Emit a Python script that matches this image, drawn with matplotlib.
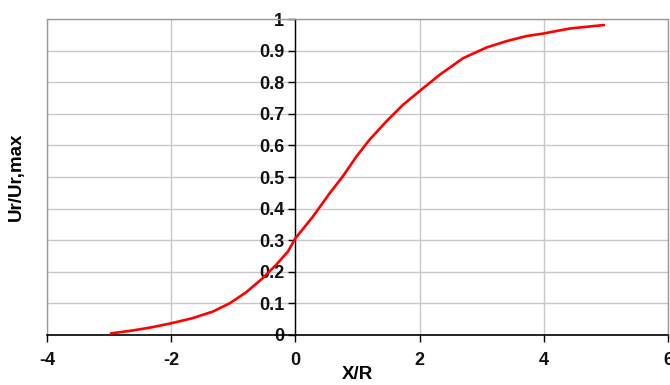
import matplotlib
matplotlib.use("Agg")
import matplotlib.pyplot as plt
from matplotlib.patches import Rectangle

x_vals = [-2.97, -2.63, -2.35, -2.0, -1.66, -1.33, -1.06, -0.80, -0.53, -0.31, -0.12,
          0.0, 0.28, 0.55, 0.76, 0.98, 1.19, 1.46, 1.73, 2.0, 2.32, 2.70, 3.08, 3.40,
          3.72, 3.99, 4.42, 4.97]
y_vals = [0.005, 0.014, 0.023, 0.037, 0.053, 0.074, 0.100, 0.134, 0.179, 0.222, 0.264,
          0.306, 0.374, 0.448, 0.501, 0.564, 0.617, 0.675, 0.728, 0.772, 0.823, 0.876, 0.910, 0.930,
          0.946, 0.954, 0.970, 0.981]
x_ticks = [-4, -2, 0, 2, 4, 6]
y_ticks = [0, 0.1, 0.2, 0.3, 0.4, 0.5, 0.6, 0.7, 0.8, 0.9, 1]
y_tick_labels = ["0", "0.1", "0.2", "0.3", "0.4", "0.5", "0.6", "0.7", "0.8", "0.9", "1"]

plt.rcParams['font.family'] = ['Liberation Sans', 'DejaVu Sans']
plt.rcParams['font.weight'] = 'bold'

fig = plt.figure(figsize=(6.7, 3.85), dpi=100)
ax = fig.add_axes([0.0701, 0.1299, 0.9269, 0.8207])
ax.set_xlim(-4, 6)
ax.set_ylim(0, 1)

ax.grid(True, color='#c8c8c8', linewidth=1.0, zorder=0)
ax.set_axisbelow(True)

ax.plot(x_vals, y_vals, color='#ff0000', linewidth=1.9, zorder=3, clip_on=False,
        solid_joinstyle='round', solid_capstyle='round')

for s in ['top', 'right']:
    ax.spines[s].set_color('#999999')
    ax.spines[s].set_linewidth(1.0)
ax.spines['left'].set_position(('data', 0))
ax.spines['left'].set_color('black')
ax.spines['left'].set_linewidth(1.0)
ax.spines['bottom'].set_color('black')
ax.spines['bottom'].set_linewidth(1.2)
ax.add_patch(Rectangle((0, 0), 0, 1, transform=ax.transAxes, fill=False,
                       edgecolor='#999999', linewidth=1.0, clip_on=False, zorder=1))

ax.set_xticks(x_ticks)
ax.set_xticklabels([str(t) for t in x_ticks])
ax.set_yticks(y_ticks)
ax.set_yticklabels(y_tick_labels)
ax.tick_params(axis='both', direction='out', length=5, width=1, color='black',
               labelsize=13, labelcolor='#111111')
ax.tick_params(axis='y', pad=3)
ax.tick_params(axis='x', pad=7)

ax.set_xlabel('X/R', fontsize=13.5, fontweight='bold')
ax.xaxis.set_label_coords(0.5, -0.098)
ax.set_ylabel('Ur/Ur,max', fontsize=13.5, fontweight='bold')
ax.yaxis.set_label_coords(-0.035, 0.5)

fig.savefig('out.png', dpi=100)
